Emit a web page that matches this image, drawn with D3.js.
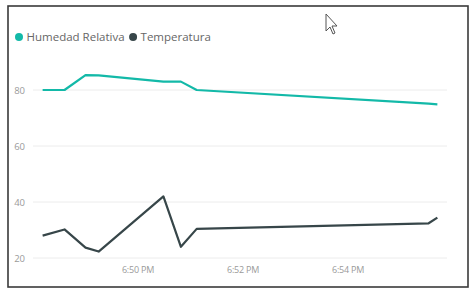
<!DOCTYPE html>
<html>
<head>
<meta charset="utf-8">
<script src="https://cdn.jsdelivr.net/npm/d3@7"></script>
<style>
  body { margin: 0; background: #fff; }
  svg { display: block; }
</style>
</head>
<body>
<script>
const width = 475, height = 293;

// data
const times = ["18:48:11", "18:48:36", "18:49:00", "18:49:15", "18:50:29", "18:50:49", "18:51:07", "18:55:32", "18:55:42"];
const humedad = [80, 80, 85.3, 85.2, 83, 83, 80, 75.1, 74.9];
const temperatura = [28, 30.2, 23.7, 22.3, 42, 24, 30.4, 32.4, 34.4];
const yTicks = [20, 40, 60, 80];
const xTicks = ["18:50:00", "18:52:00", "18:54:00"];
const seriesNames = ["Humedad Relativa", "Temperatura"];
const colors = ["#13b9a8", "#374649"];

const parse = d3.timeParse("%H:%M:%S");
const fmt = d3.timeFormat("%-I:%M %p");

const svg = d3.select("body").append("svg").attr("width", width).attr("height", height);

// outer frame
svg.append("rect")
   .attr("x", 8).attr("y", 6).attr("width", 460).attr("height", 281)
   .attr("fill", "#fff").attr("stroke", "#3a3a3a").attr("stroke-width", 1.6);

const x = d3.scaleTime()
    .domain([parse("18:48:00"), parse("18:55:53")])
    .range([33, 447]);
const y = d3.scaleLinear().domain([20, 80]).range([258, 90]);

// gridlines
svg.append("g").selectAll("line")
   .data(yTicks).enter().append("line")
   .attr("x1", 33).attr("x2", 447)
   .attr("y1", d => y(d)).attr("y2", d => y(d))
   .style("stroke", "#ececec").style("stroke-width", 1);

// y labels
svg.append("g").selectAll("text")
   .data(yTicks).enter().append("text")
   .attr("x", 25).attr("y", d => y(d) + 3.5)
   .attr("text-anchor", "end")
   .text(d => d)
   .style("font-family", "Open Sans").style("font-size", "9.5px").style("fill", "#9a9a9a");

// x labels
svg.append("g").selectAll("text")
   .data(xTicks).enter().append("text")
   .attr("x", d => x(parse(d))).attr("y", 273)
   .attr("text-anchor", "middle")
   .text(d => fmt(parse(d)))
   .style("font-family", "Open Sans").style("font-size", "9px").style("fill", "#9a9a9a")
   .style("letter-spacing", "-0.2px");

const line = d3.line().x(d => x(d[0])).y(d => y(d[1]));

[humedad, temperatura].forEach((vals, i) => {
    const pts = times.map((t, j) => [parse(t), vals[j]]);
    svg.append("path")
       .attr("d", line(pts))
       .attr("fill", "none")
       .attr("stroke", colors[i])
       .attr("stroke-width", 2.2)
       .attr("stroke-linejoin", "round");
});

// legend
const legend = svg.append("g").attr("transform", "translate(19, 37)");
let lx = 0;
seriesNames.forEach((name, i) => {
    legend.append("circle").attr("cx", lx).attr("cy", 0).attr("r", 4).attr("fill", colors[i]);
    const t = legend.append("text")
       .attr("x", lx + 7.5).attr("y", 4)
       .text(name)
       .style("font-family", "Open Sans").style("font-size", "11.5px").style("fill", "#666");
    lx += 7.5 + t.node().getComputedTextLength() + 8.5;
});

// mouse pointer in the screenshot
svg.append("path")
   .attr("d", "M326,14 L326,31 L330,27 L333,34 L335,33 L332,26 L337,26 Z")
   .attr("fill", "#fff").attr("stroke", "#555").attr("stroke-width", 1);
</script>
</body>
</html>
